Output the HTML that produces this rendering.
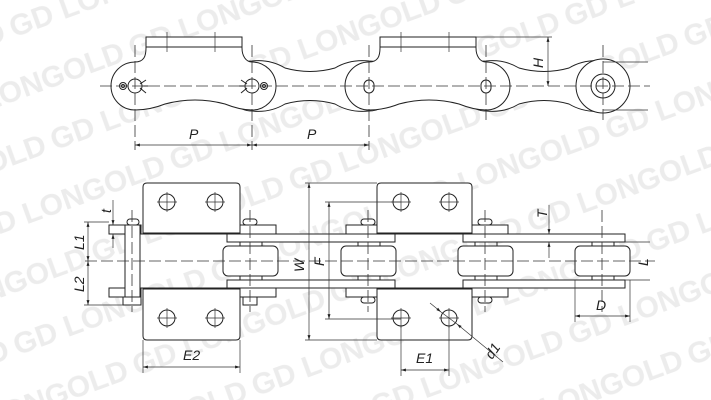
<!DOCTYPE html>
<html><head><meta charset="utf-8"><style>
html,body{margin:0;padding:0;background:#fff;width:711px;height:400px;overflow:hidden;}
svg{display:block;overflow:hidden;}
.l{stroke:#222;stroke-width:1;fill:none;}
.f{stroke:#222;stroke-width:1;fill:#fff;}
.c{stroke:#333;stroke-width:0.8;fill:none;stroke-dasharray:12,4;}
.d{stroke:#333;stroke-width:0.7;fill:none;}
.t{font-family:"Liberation Sans",sans-serif;font-style:italic;font-size:14px;fill:#222;}
.w{font-family:"Liberation Sans",sans-serif;font-weight:bold;font-size:30px;fill:#ececec;}
</style></head><body>
<svg width="711" height="400" viewBox="0 0 711 400" xmlns="http://www.w3.org/2000/svg">
<defs>
<marker id="a" viewBox="0 0 10 10" refX="10" refY="5" markerWidth="7" markerHeight="7" orient="auto-start-reverse"><path d="M0,2 L10,5 L0,8 z" fill="#222"/></marker>
<pattern id="wm" width="210" height="120" patternUnits="userSpaceOnUse" patternTransform="rotate(-20)">
<text class="w" x="0" y="40">GD LONGOLD</text>
<text class="w" x="-105" y="100">GD LONGOLD</text>
<text class="w" x="105" y="100">GD LONGOLD</text>
</pattern>
</defs>
<rect x="0" y="0" width="711" height="400" fill="url(#wm)"/>

<!-- ===== TOP SIDE VIEW ===== -->
<path class="f" d="M252,61 Q270,59 285,68 Q310,75 335,68 Q350,59 369,61 A25,25 0 0 1 369,111 Q350,113 335,104 Q310,97 285,104 Q270,113 252,111 A25,25 0 0 1 252,61 Z"/>
<path class="f" d="M486,61 Q504,59 519,68 Q544,75 569,68 Q584,59 603,61 A25,25 0 0 1 603,111 Q584,113 569,104 Q544,97 519,104 Q504,113 486,111 A25,25 0 0 1 486,61 Z"/>
<path class="f" d="M135,62 C144,62 146,56 146,48 L146,37 L242,37 L242,48 C242,56 246,62 252,62 A24,24 0 0 1 252,110 Q240,110 225,104 Q195,96 165,104 Q150,110 135,110 A24,24 0 0 1 135,62 Z"/>
<path class="f" d="M369,62 C378,62 380,56 380,48 L380,37 L476,37 L476,48 C476,56 480,62 486,62 A24,24 0 0 1 486,110 Q474,110 459,104 Q429,96 399,104 Q384,110 369,110 A24,24 0 0 1 369,62 Z"/>
<line class="l" x1="146" y1="47" x2="242" y2="47"/><line class="l" x1="380" y1="47" x2="476" y2="47"/>
<line class="d" x1="167" y1="32" x2="167" y2="52"/><line class="d" x1="215" y1="32" x2="215" y2="52"/>
<line class="d" x1="401" y1="32" x2="401" y2="52"/><line class="d" x1="449" y1="32" x2="449" y2="52"/>
<circle class="f" cx="603" cy="86" r="27"/>
<circle class="l" cx="603" cy="86" r="12"/>
<circle class="l" cx="603" cy="86" r="7"/>
<circle class="l" cx="135" cy="86" r="7"/><circle class="l" cx="123" cy="86" r="3.5"/><circle class="l" cx="123" cy="86" r="1.5"/>
<path class="l" d="M140,84 L146,80 M140,88 L146,93 M142,86 L148,86"/>
<circle class="l" cx="252" cy="86" r="7"/><circle class="l" cx="264" cy="86" r="3.5"/><circle class="l" cx="264" cy="86" r="1.5"/>
<path class="l" d="M247,84 L241,80 M247,88 L241,93 M245,86 L239,86"/>
<rect class="l" x="364" y="80" width="10" height="13" rx="5"/>
<rect class="l" x="481" y="80" width="10" height="13" rx="5"/>
<line class="c" x1="100" y1="86" x2="650" y2="86"/>
<line class="c" x1="135" y1="45" x2="135" y2="150"/>
<line class="c" x1="252" y1="45" x2="252" y2="150"/>
<line class="c" x1="369" y1="45" x2="369" y2="150"/>
<line class="c" x1="486" y1="45" x2="486" y2="120"/>
<line class="c" x1="603" y1="45" x2="603" y2="120"/>
<line class="d" x1="476" y1="37" x2="552" y2="37"/>
<line class="d" x1="548" y1="37" x2="548" y2="86" marker-start="url(#a)" marker-end="url(#a)"/>
<text class="t" transform="translate(543,68) rotate(-90)">H</text>
<line class="d" x1="603" y1="62" x2="648" y2="62"/><line class="d" x1="603" y1="110" x2="648" y2="110"/>
<line class="d" x1="135" y1="145" x2="252" y2="145" marker-start="url(#a)" marker-end="url(#a)"/>
<line class="d" x1="252" y1="145" x2="369" y2="145" marker-start="url(#a)" marker-end="url(#a)"/>
<text class="t" x="189" y="139">P</text><text class="t" x="307" y="139">P</text>

<!-- ===== BOTTOM PLAN VIEW ===== -->
<path class="f" d="M143,233 L143,187 Q143,183 147,183 L236,183 Q240,183 240,187 L240,233 Z"/>
<path class="f" d="M143,289 L143,336 Q143,340 147,340 L236,340 Q240,340 240,336 L240,289 Z"/>
<path class="f" d="M377,233 L377,187 Q377,183 381,183 L468,183 Q472,183 472,187 L472,233 Z"/>
<path class="f" d="M377,289 L377,336 Q377,340 381,340 L468,340 Q472,340 472,336 L472,289 Z"/>
<g class="l">
<circle cx="167" cy="202" r="8"/><circle cx="215" cy="202" r="8"/><circle cx="167" cy="318" r="8"/><circle cx="215" cy="318" r="8"/>
<circle cx="401" cy="202" r="8"/><circle cx="449" cy="202" r="8"/><circle cx="401" cy="318" r="8"/><circle cx="449" cy="318" r="8"/>
</g>
<g class="d">
<path d="M157,202h20M167,192v20M205,202h20M215,192v20M157,318h20M167,308v20M205,318h20M215,308v20"/>
<path d="M391,202h20M401,192v20M439,202h20M449,192v20M391,318h20M401,308v20M439,318h20M449,308v20"/>
</g>
<rect class="f" x="109" y="225" width="32" height="9"/><rect class="f" x="109" y="288" width="32" height="9"/>
<rect class="f" x="240" y="225" width="36" height="9"/><rect class="f" x="240" y="288" width="36" height="9"/>
<rect class="f" x="346" y="225" width="31" height="9"/><rect class="f" x="346" y="288" width="31" height="9"/>
<rect class="f" x="472" y="225" width="36" height="9"/><rect class="f" x="472" y="288" width="36" height="9"/>
<line class="l" x1="141" y1="234" x2="625" y2="234"/><line class="l" x1="141" y1="288" x2="625" y2="288"/>
<rect class="f" x="227" y="234" width="168" height="8"/><rect class="f" x="227" y="280" width="168" height="8"/>
<rect class="f" x="463" y="234" width="162" height="8"/><rect class="f" x="463" y="280" width="162" height="8"/>
<rect class="f" x="125" y="225" width="15" height="72"/>
<rect class="f" x="223" y="246" width="55" height="30" rx="5"/>
<rect class="f" x="341" y="246" width="55" height="30" rx="5"/>
<rect class="f" x="458" y="246" width="55" height="30" rx="5"/>
<rect class="f" x="575" y="246" width="55" height="30" rx="5"/>
<g class="l">
<path d="M240,242v4M262,242v4M240,276v4M262,276v4M358,242v4M380,242v4M358,276v4M380,276v4M475,242v4M497,242v4M475,276v4M497,276v4M592,242v4M614,242v4M592,276v4M614,276v4"/>
</g>
<rect class="f" x="127" y="219" width="12" height="6" rx="3"/><rect class="f" x="123" y="297" width="18" height="8"/>
<rect class="f" x="243" y="219" width="14" height="6" rx="3"/><rect class="f" x="243" y="297" width="14" height="8"/>
<rect class="f" x="361" y="219" width="14" height="6" rx="3"/><rect class="f" x="361" y="297" width="14" height="6" rx="3"/>
<rect class="f" x="478" y="219" width="14" height="6" rx="3"/><rect class="f" x="478" y="297" width="14" height="6" rx="3"/>
<line class="c" x1="85" y1="261" x2="655" y2="261"/>
<line class="c" x1="132" y1="210" x2="132" y2="312"/>
<line class="c" x1="250" y1="210" x2="250" y2="312"/>
<line class="c" x1="368" y1="210" x2="368" y2="312"/>
<line class="c" x1="485" y1="210" x2="485" y2="312"/>
<line class="c" x1="602" y1="210" x2="602" y2="312"/>
<line class="d" x1="305" y1="183" x2="377" y2="183"/><line class="d" x1="305" y1="340" x2="377" y2="340"/>
<line class="d" x1="309" y1="183" x2="309" y2="340" marker-start="url(#a)" marker-end="url(#a)"/>
<text class="t" transform="translate(304,272) rotate(-90)">W</text>
<line class="d" x1="325" y1="202" x2="401" y2="202"/><line class="d" x1="325" y1="319" x2="401" y2="319"/>
<line class="d" x1="329" y1="202" x2="329" y2="319" marker-start="url(#a)" marker-end="url(#a)"/>
<text class="t" transform="translate(324,266) rotate(-90)">F</text>
<line class="d" x1="84" y1="222" x2="109" y2="222"/><line class="d" x1="84" y1="305" x2="123" y2="305"/>
<line class="d" x1="88" y1="222" x2="88" y2="261" marker-start="url(#a)" marker-end="url(#a)"/>
<line class="d" x1="88" y1="261" x2="88" y2="305" marker-start="url(#a)" marker-end="url(#a)"/>
<text class="t" transform="translate(84,250) rotate(-90)">L1</text>
<text class="t" transform="translate(84,292) rotate(-90)">L2</text>
<line class="d" x1="113" y1="200" x2="113" y2="225" marker-end="url(#a)"/>
<line class="d" x1="113" y1="248" x2="113" y2="234" marker-end="url(#a)"/>
<text class="t" transform="translate(111,213) rotate(-90)">t</text>
<line class="d" x1="549" y1="205" x2="549" y2="234" marker-end="url(#a)"/>
<line class="d" x1="549" y1="258" x2="549" y2="242" marker-end="url(#a)"/>
<text class="t" transform="translate(547,218) rotate(-90)">T</text>
<line class="d" x1="625" y1="242" x2="650" y2="242"/><line class="d" x1="625" y1="280" x2="650" y2="280"/>
<text class="t" transform="translate(648,266) rotate(-90)" font-size="10">L</text>
<line class="d" x1="575" y1="280" x2="575" y2="322"/><line class="d" x1="630" y1="280" x2="630" y2="322"/>
<line class="d" x1="575" y1="316" x2="630" y2="316" marker-start="url(#a)" marker-end="url(#a)"/>
<text class="t" x="596" y="310">D</text>
<line class="d" x1="143" y1="340" x2="143" y2="373"/><line class="d" x1="240" y1="340" x2="240" y2="373"/>
<line class="d" x1="143" y1="367" x2="240" y2="367" marker-start="url(#a)" marker-end="url(#a)"/>
<text class="t" x="183" y="360">E2</text>
<line class="d" x1="401" y1="326" x2="401" y2="376"/><line class="d" x1="449" y1="326" x2="449" y2="376"/>
<line class="d" x1="401" y1="370" x2="449" y2="370" marker-start="url(#a)" marker-end="url(#a)"/>
<text class="t" x="416" y="363">E1</text>
<line class="d" x1="430" y1="303" x2="441" y2="312" marker-end="url(#a)"/>
<line class="d" x1="503" y1="362" x2="457" y2="324" marker-end="url(#a)"/>
<line class="d" x1="441" y1="312" x2="457" y2="324"/>
<text class="t" transform="translate(492,360) rotate(-55)">d1</text>
</svg>
</body></html>
